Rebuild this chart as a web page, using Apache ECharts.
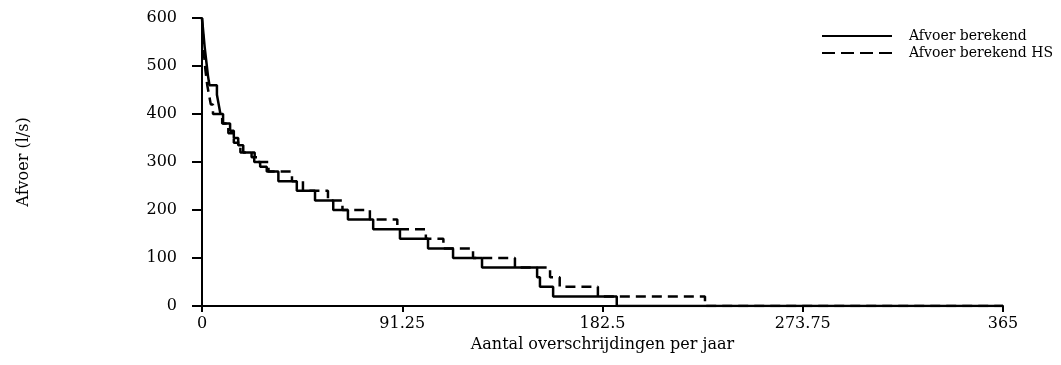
<!DOCTYPE html>
<html>
<head>
<meta charset="utf-8">
<script src="https://cdn.jsdelivr.net/npm/echarts@6/dist/echarts.min.js"></script>
<style>
  html, body { margin: 0; padding: 0; background: #fff; }
  #chart { width: 1061px; height: 365px; }
</style>
</head>
<body>
<div id="chart"></div>
<script>
  // each pair = start of a step (dag, afvoer); value holds until the next x
  var berekendX = [0, 0.4, 0.8, 1.2, 1.7, 2.2, 2.7, 3.4, 6.8, 7.6, 8.4, 9.6, 12.8, 14.5, 16.5, 18.8, 22.6, 23.8, 26.5, 29.5, 34.8, 43.2, 51.5, 59.8, 66.5, 78.0, 90.2, 103.0, 114.4, 127.6, 152.7, 154.0, 160.0, 189.0, 365]
  var berekendY = [600, 580, 560, 540, 520, 500, 480, 460, 440, 420, 400, 380, 365, 350, 335, 320, 310, 300, 290, 280, 260, 240, 220, 200, 180, 160, 140, 120, 100, 80, 60, 40, 20, 0, 0]

  var hsX = [0, 0.5, 1.0, 1.6, 2.4, 3.2, 4.0, 5.0, 9.2, 12.0, 14.5, 17.5, 24.0, 25.5, 30.3, 41.0, 46.0, 57.4, 64.0, 76.5, 89.0, 102.0, 110.0, 123.5, 142.6, 158.6, 163.0, 180.4, 229.2, 365]
  var hsY = [600, 560, 520, 490, 460, 440, 420, 400, 380, 360, 340, 320, 310, 300, 280, 260, 240, 220, 200, 180, 160, 140, 120, 100, 80, 60, 40, 20, 0, 0]

  var xTicks = [0, 91.25, 182.5, 273.75, 365]
  var yTicks = [0, 100, 200, 300, 400, 500, 600]

  function pairs(xs, ys) {
    var out = []
    for (var i = 0; i < xs.length; i++) {
      out.push([xs[i], ys[i]])
    }
    return out
  }

  var font = 'DejaVu Serif'
  var mychar = echarts.init(document.getElementById('chart'))
  var option = {
    animation: false,
    textStyle: { fontFamily: font, color: '#000' },
    grid: { left: 202, right: 58, top: 18, bottom: 59 },
    legend: {
      orient: 'vertical',
      left: 816,
      top: 24,
      itemWidth: 70,
      itemHeight: 14,
      itemGap: 3,
      itemStyle: { opacity: 0, borderWidth: 0 },
      textStyle: { fontFamily: font, fontSize: 14, color: '#000', padding: [0, 0, 0, 12] },
      data: [
        { name: 'Afvoer berekend' },
        { name: 'Afvoer berekend HS', lineStyle: { type: [13, 6] } }
      ]
    },
    xAxis: {
      type: 'value',
      min: xTicks[0],
      max: xTicks[xTicks.length - 1],
      interval: xTicks[1] - xTicks[0],
      name: 'Aantal overschrijdingen per jaar',
      nameLocation: 'middle',
      nameGap: 26,
      nameTextStyle: { fontFamily: font, fontSize: 16, color: '#000' },
      splitLine: { show: false },
      axisLine: { lineStyle: { color: '#000', width: 2 } },
      axisTick: { length: 6, lineStyle: { color: '#000', width: 2 } },
      axisLabel: { margin: 10, fontFamily: font, fontSize: 16, color: '#000' }
    },
    yAxis: {
      type: 'value',
      min: yTicks[0],
      max: yTicks[yTicks.length - 1],
      interval: 100,
      name: 'Afvoer (l/s)',
      nameLocation: 'middle',
      nameGap: 170,
      nameTextStyle: { fontFamily: font, fontSize: 16, color: '#000' },
      splitLine: { show: false },
      axisLine: { show: true, lineStyle: { color: '#000', width: 2 } },
      axisTick: { show: true, length: 10, lineStyle: { color: '#000', width: 2 } },
      axisLabel: { margin: 25, fontFamily: font, fontSize: 16, color: '#000' }
    },
    series: [
      {
        name: 'Afvoer berekend',
        type: 'line',
        step: 'end',
        symbol: 'none',
        data: pairs(berekendX, berekendY),
        lineStyle: { color: '#000', width: 2.5, type: 'solid' },
        itemStyle: { color: '#000' }
      },
      {
        name: 'Afvoer berekend HS',
        type: 'line',
        step: 'end',
        symbol: 'none',
        data: pairs(hsX, hsY),
        lineStyle: { color: '#000', width: 2.5, type: [10, 6] },
        itemStyle: { color: '#000' }
      }
    ]
  }
  mychar.setOption(option)
</script>
</body>
</html>
